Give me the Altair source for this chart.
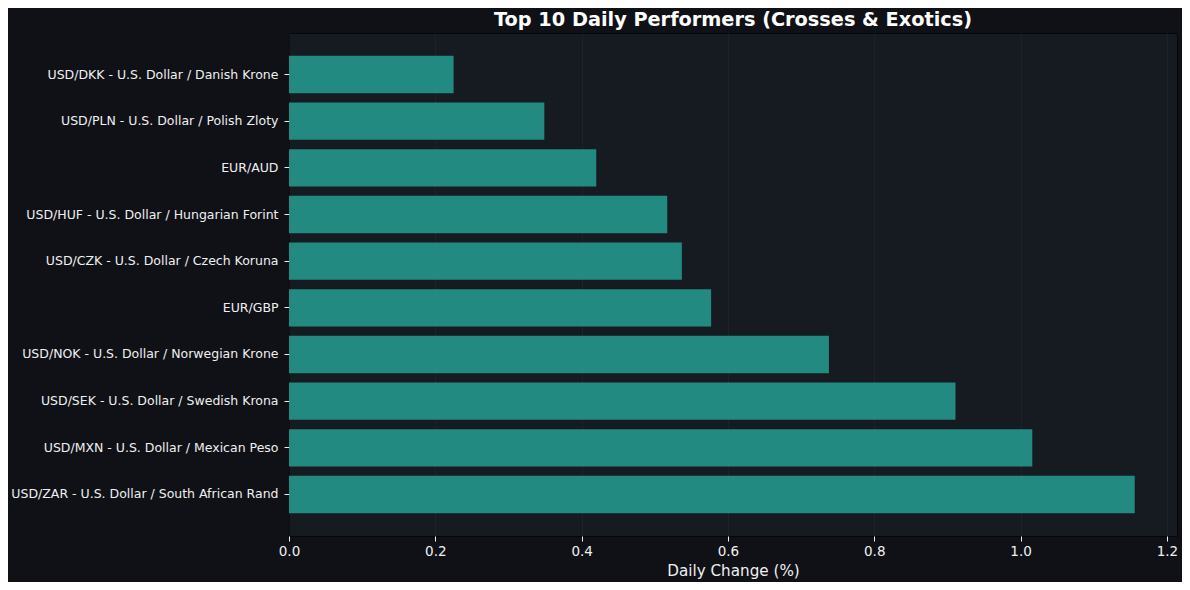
import altair as alt
import pandas as pd

pairs = [
    "USD/DKK - U.S. Dollar / Danish Krone",
    "USD/PLN - U.S. Dollar / Polish Zloty",
    "EUR/AUD",
    "USD/HUF - U.S. Dollar / Hungarian Forint",
    "USD/CZK - U.S. Dollar / Czech Koruna",
    "EUR/GBP",
    "USD/NOK - U.S. Dollar / Norwegian Krone",
    "USD/SEK - U.S. Dollar / Swedish Krona",
    "USD/MXN - U.S. Dollar / Mexican Peso",
    "USD/ZAR - U.S. Dollar / South African Rand",
]
changes = [0.225, 0.349, 0.420, 0.517, 0.537, 0.577, 0.738, 0.911, 1.016, 1.156]
x_ticks = [0.0, 0.2, 0.4, 0.6, 0.8, 1.0, 1.2]

df = pd.DataFrame({"pair": pairs, "change": changes})

FONT = "DejaVu Sans"
TXT = "#f0f0f0"

chart = (
    alt.Chart(df)
    .mark_bar(color="#26a69a", opacity=0.8)
    .encode(
        x=alt.X(
            "change:Q",
            title="Daily Change (%)",
            scale=alt.Scale(domain=[0, 1.2138], nice=False, zero=True),
            axis=alt.Axis(
                values=x_ticks,
                format=".1f",
                grid=True,
                gridColor="#ffffff",
                gridOpacity=0.035,
                labelColor=TXT,
                labelFontSize=13.5,
                labelFont=FONT,
                labelFlush=False,
                titleColor=TXT,
                titleFont=FONT,
                titleFontSize=15.2,
                titleFontWeight="normal",
                titlePadding=6,
                tickColor=TXT,
                tickSize=5,
                domain=False,
                labelPadding=3,
            ),
        ),
        y=alt.Y(
            "pair:N",
            sort=pairs,
            title=None,
            scale=alt.Scale(paddingInner=0.2, paddingOuter=0.49),
            axis=alt.Axis(
                labelColor=TXT,
                labelFontSize=12.5,
                labelFont=FONT,
                labelLimit=400,
                tickColor=TXT,
                tickSize=5,
                domain=False,
                grid=False,
                labelPadding=6,
            ),
        ),
    )
    .properties(
        width=888,
        height=503,
        background="#0f1117",
        padding={"left": 281, "top": 25, "right": 5, "bottom": 46},
        autosize=alt.AutoSizeParams(type="none"),
        title=alt.TitleParams(
            "Top 10 Daily Performers (Crosses & Exotics)",
            color="#ffffff",
            font=FONT,
            fontSize=19.3,
            fontWeight="bold",
            anchor="middle",
            offset=3,
        ),
    )
    .configure_view(fill="#161a21", stroke="#05070a", strokeWidth=1)
)

chart.save("out.html", embed_options={"renderer": "svg", "actions": False})
